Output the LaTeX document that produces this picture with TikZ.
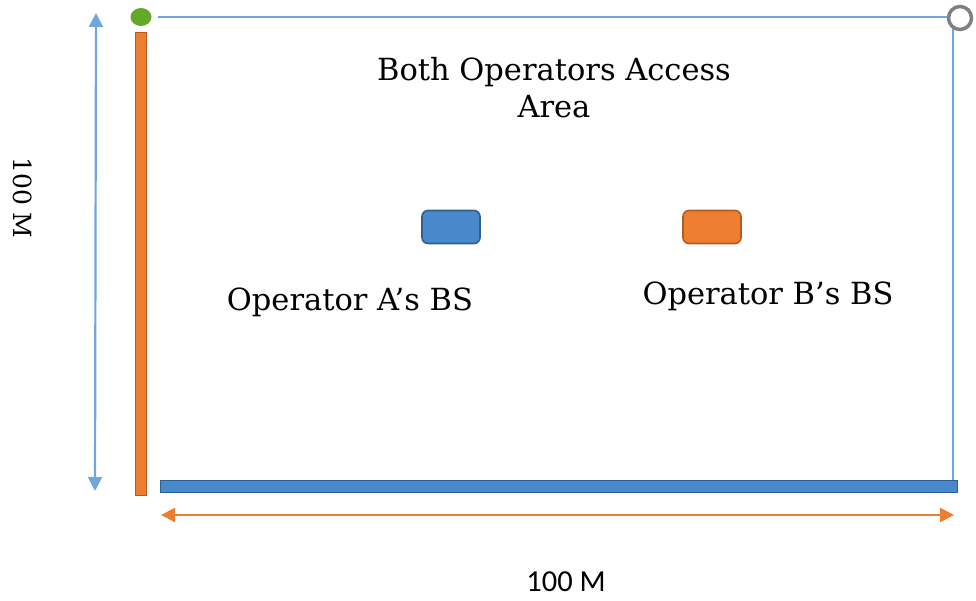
\documentclass[tikz,border=0pt]{standalone}
\usepackage{fontspec}
\setmainfont{DejaVu Serif}
\newfontfamily\labelsans{Carlito}
\usetikzlibrary{arrows.meta,shapes.geometric}
\definecolor{lineblue}{HTML}{6FA6DC}
\definecolor{barblue}{HTML}{4A88CC}
\definecolor{bardark}{HTML}{2E5F92}
\definecolor{orng}{HTML}{ED7D31}
\definecolor{orngdark}{HTML}{B85A1E}
\definecolor{grn}{HTML}{63A828}
\definecolor{grcircle}{HTML}{808080}
\tikzset{
  thinline/.style={draw=lineblue, line width=2.4pt},
  dimarrow/.style={line width=2.2pt, {Triangle[length=14pt,width=14pt]}-{Triangle[length=14pt,width=14pt]}},
  bsbox/.style={rounded corners=6pt, line width=1.6pt, minimum width=58pt, minimum height=33pt, inner sep=0pt},
  lbl/.style={font=\fontsize{30.5}{36}\selectfont, inner sep=0pt},
}
\begin{document}
\begin{tikzpicture}[x=1pt,y=-1pt]
\useasboundingbox (0,0) rectangle (976,601);
% area outline
\coordinate (tl) at (158,17);
\coordinate (tr) at (949,17);
\coordinate (rt) at (953,27);
\coordinate (rb) at (953,484);
\draw[thinline] (tl) -- (tr);
\draw[thinline] (rt) -- (rb);
% corner markers
\node[ellipse, fill=grn, minimum width=21pt, minimum height=18pt, inner sep=0pt] (gdot) at (141,17) {};
\node[circle, draw=grcircle, fill=white, line width=3.5pt, minimum size=23pt, inner sep=0pt] (gcirc) at (960,18) {};
% orange vertical bar
\node[draw=orngdark, fill=orng, line width=1pt, minimum width=11pt, minimum height=462pt, inner sep=0pt] (obar) at (141,264) {};
% blue horizontal bar
\node[draw=bardark, fill=barblue, line width=1pt, minimum width=797pt, minimum height=12pt, inner sep=0pt] (bbar) at (558.5,486.5) {};
% dimension arrows
\coordinate (vt) at (96,13);
\coordinate (vb) at (95,491);
\draw[dimarrow, draw=lineblue, fill=lineblue] (vt) -- (vb);
\coordinate (hl) at (161,515);
\coordinate (hr) at (954,515);
\draw[dimarrow, draw=orng, fill=orng] (hl) -- (hr);
% base stations
\node[bsbox, draw=bardark, fill=barblue] (bsA) at (451,227) {};
\node[bsbox, draw=orngdark, fill=orng] (bsB) at (712,227) {};
% labels
\node[lbl, align=center, font=\fontsize{30.5}{37}\selectfont] (area) at (554,88) {Both Operators Access\\Area};
\node[lbl] (la) at (350,302) {Operator A’s BS};
\node[lbl] (lb) at (768,296) {Operator B’s BS};
\node[lbl, font=\labelsans\fontsize{30.5}{34}\selectfont] (dimh) at (566,582) {100 M};
\node[lbl, rotate=-90, font=\fontsize{25}{30}\selectfont] (dimv) at (23,198) {100 M};
\end{tikzpicture}
\end{document}
